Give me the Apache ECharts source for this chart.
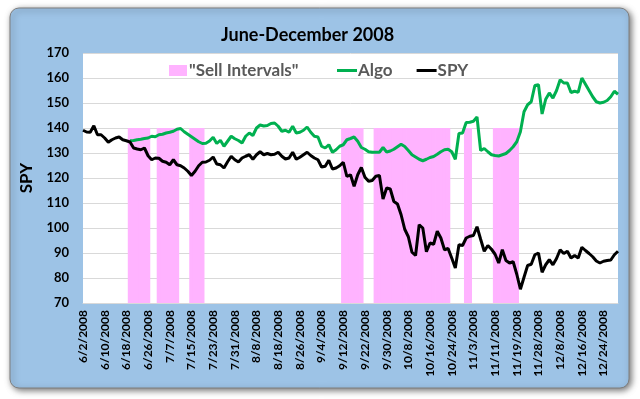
<!DOCTYPE html>
<html>
<head>
<meta charset="utf-8">
<script src="https://cdn.jsdelivr.net/npm/echarts@6/dist/echarts.min.js"></script>
<style>html,body{margin:0;padding:0;background:#fff;}#chart{width:640px;height:399px;}</style>
</head>
<body>
<div id="chart"></div>
<script>
var dates = [
"6/2/2008","6/3/2008","6/4/2008","6/5/2008","6/6/2008","6/9/2008","6/10/2008","6/11/2008","6/12/2008","6/13/2008","6/16/2008","6/17/2008","6/18/2008","6/19/2008","6/20/2008","6/23/2008","6/24/2008","6/25/2008","6/26/2008","6/27/2008","6/30/2008",
"7/1/2008","7/2/2008","7/3/2008","7/7/2008","7/8/2008","7/9/2008","7/10/2008","7/11/2008","7/14/2008","7/15/2008","7/16/2008","7/17/2008","7/18/2008","7/21/2008","7/22/2008","7/23/2008","7/24/2008","7/25/2008","7/28/2008","7/29/2008","7/30/2008","7/31/2008",
"8/1/2008","8/4/2008","8/5/2008","8/6/2008","8/7/2008","8/8/2008","8/11/2008","8/12/2008","8/13/2008","8/14/2008","8/15/2008","8/18/2008","8/19/2008","8/20/2008","8/21/2008","8/22/2008","8/25/2008","8/26/2008","8/27/2008","8/28/2008","8/29/2008",
"9/2/2008","9/3/2008","9/4/2008","9/5/2008","9/8/2008","9/9/2008","9/10/2008","9/11/2008","9/12/2008","9/15/2008","9/16/2008","9/17/2008","9/18/2008","9/19/2008","9/22/2008","9/23/2008","9/24/2008","9/25/2008","9/26/2008","9/29/2008","9/30/2008",
"10/1/2008","10/2/2008","10/3/2008","10/6/2008","10/7/2008","10/8/2008","10/9/2008","10/10/2008","10/13/2008","10/14/2008","10/15/2008","10/16/2008","10/17/2008","10/20/2008","10/21/2008","10/22/2008","10/23/2008","10/24/2008","10/27/2008","10/28/2008","10/29/2008","10/30/2008","10/31/2008",
"11/3/2008","11/4/2008","11/5/2008","11/6/2008","11/7/2008","11/10/2008","11/11/2008","11/12/2008","11/13/2008","11/14/2008","11/17/2008","11/18/2008","11/19/2008","11/20/2008","11/21/2008","11/24/2008","11/25/2008","11/26/2008","11/28/2008",
"12/1/2008","12/2/2008","12/3/2008","12/4/2008","12/5/2008","12/8/2008","12/9/2008","12/10/2008","12/11/2008","12/12/2008","12/15/2008","12/16/2008","12/17/2008","12/18/2008","12/19/2008","12/22/2008","12/23/2008","12/24/2008","12/26/2008","12/29/2008","12/30/2008","12/31/2008"
];

var spy = [
139.1,138.4,138.3,140.9,137.3,137.3,136.0,134.3,135.3,136.0,136.4,135.3,134.9,134.4,132.0,131.6,131.3,132.0,128.9,127.3,128.0,
127.9,126.7,126.3,125.3,127.3,125.3,124.9,124.0,122.7,121.0,122.7,124.9,126.3,126.4,127.1,128.4,125.6,125.3,124.0,126.5,128.7,127.3,
126.4,128.0,128.7,129.3,127.5,129.3,130.5,129.3,129.8,129.3,129.5,130.3,128.7,127.6,128.0,130.3,127.5,128.3,129.3,130.3,129.0,
128.0,127.3,124.4,124.7,127.1,123.6,124.0,124.9,126.3,120.6,121.3,116.7,121.3,124.2,120.3,118.7,119.0,120.7,121.0,111.6,116.0,
115.6,110.6,109.6,105.3,99.5,96.5,90.3,89.0,101.3,100.0,90.5,94.0,93.5,98.7,96.0,91.3,91.8,88.0,84.0,93.3,93.0,96.0,96.7,
97.0,100.5,95.5,90.7,93.0,91.5,89.5,86.0,91.3,87.0,86.0,86.5,81.5,75.5,80.3,85.0,85.5,89.3,90.0,
82.3,85.3,87.3,85.3,87.8,91.3,89.8,90.7,88.0,89.0,88.0,92.3,91.0,89.8,88.5,86.8,86.0,86.7,87.0,87.2,89.3,90.7
];

var algoStartDate = "6/19/2008";
var algo = [
134.9,135.0,135.3,135.5,135.8,136.0,136.7,136.5,137.3,137.5,138.0,138.3,138.7,139.5,139.8,138.5,137.5,136.5,135.5,134.5,133.8,133.9,134.8,136.3,133.8,
135.1,132.7,134.7,136.7,135.7,135.0,134.0,136.7,138.0,137.0,140.0,141.2,140.8,141.0,141.8,142.0,140.7,138.7,139.1,138.3,140.7,138.0,138.3,139.1,140.4,138.3,
136.7,136.4,132.7,132.0,133.3,130.3,131.3,132.7,133.3,135.3,135.8,136.4,134.7,132.2,131.5,130.5,130.3,130.3,130.3,132.2,130.4,
130.8,131.5,132.5,133.5,132.6,131.0,129.3,128.4,127.5,126.9,127.5,128.2,128.6,129.5,130.5,131.3,131.5,130.5,127.5,137.8,138.0,142.2,142.3,
142.7,144.4,131.0,131.8,130.5,129.3,129.0,128.8,129.3,129.8,131.0,132.5,134.5,138.5,146.5,149.3,150.5,157.0,157.3,
145.6,151.5,154.0,152.0,155.0,159.3,158.0,158.0,154.2,154.7,154.3,160.0,157.5,155.0,152.5,150.5,150.0,150.3,151.0,152.5,154.7,153.5
];

var sellStarts = ["6/19/2008","7/1/2008","7/15/2008","9/12/2008","9/25/2008","10/30/2008","11/11/2008"];
var sellEnds   = ["6/26/2008","7/9/2008","7/18/2008","9/19/2008","10/23/2008","10/31/2008","11/19/2008"];
var sellLevel = 140;

var yTicks = [70, 170, 10];

// build series data
var algoData = [];
var aStart = dates.indexOf(algoStartDate);
for (var i = 0; i < dates.length; i++) {
  algoData.push(i >= aStart ? algo[i - aStart] : null);
}
var sellData = dates.map(function(){ return null; });
for (var k = 0; k < sellStarts.length; k++) {
  var s = dates.indexOf(sellStarts[k]), e = dates.indexOf(sellEnds[k]);
  for (var j = s; j <= e; j++) sellData[j] = sellLevel;
}

var FONT = 'Lato, "Open Sans", sans-serif';
var PINK = '#ffb3ff';
var chart = echarts.init(document.getElementById('chart'), null, {renderer: 'canvas'});
chart.setOption({
  backgroundColor: '#ffffff',
  animation: false,
  graphic: [{
    type: 'rect',
    z: -10,
    shape: {x: 10, y: 8, width: 619, height: 380, r: 9},
    style: {fill: '#9dc3e6', stroke: '#7f7f7f', lineWidth: 1, shadowBlur: 6, shadowColor: 'rgba(0,0,0,0.55)', shadowOffsetX: 2, shadowOffsetY: 2}
  }],
  title: {
    text: 'June-December 2008',
    left: 216,
    top: 21,
    textStyle: {fontFamily: FONT, fontSize: 18, fontWeight: 'bold', color: '#000'}
  },
  legend: [{
    top: 62,
    left: 169,
    padding: 0,
    itemWidth: 18,
    itemHeight: 11,
    icon: 'rect',
    textStyle: {fontFamily: FONT, fontSize: 17, fontWeight: 'bold', color: '#595959', padding: [0,0,0,-3]},
    data: ['"Sell Intervals"']
  }, {
    top: 62,
    left: 337,
    padding: 0,
    itemGap: 24,
    itemWidth: 20,
    itemHeight: 3,
    icon: 'rect',
    textStyle: {fontFamily: FONT, fontSize: 17, fontWeight: 'bold', color: '#595959', padding: [0,0,0,-4]},
    data: ['Algo', 'SPY']
  }],
  grid: {left: 83, right: 22, top: 53, bottom: 96, show: true, backgroundColor: '#ffffff', borderWidth: 0, containLabel: false},
  xAxis: {
    type: 'category',
    data: dates,
    boundaryGap: false,
    axisLine: {show: true, lineStyle: {color: '#d9d9d9'}},
    axisTick: {show: false},
    axisLabel: {interval: 5, rotate: 90, margin: 7, fontFamily: FONT, fontSize: 12, fontWeight: 'bold', color: '#000'},
    splitLine: {show: false}
  },
  yAxis: {
    type: 'value',
    min: yTicks[0], max: yTicks[1], interval: yTicks[2],
    name: 'SPY',
    nameLocation: 'middle',
    nameRotate: 90,
    nameGap: 45,
    nameTextStyle: {fontFamily: FONT, fontSize: 17, fontWeight: 'bold', color: '#000'},
    axisLine: {show: false},
    axisTick: {show: false},
    axisLabel: {margin: 14, fontFamily: FONT, fontSize: 13, fontWeight: 'bold', color: '#000'},
    splitLine: {lineStyle: {color: '#d9d9d9', width: 1}}
  },
  series: [
    {
      name: '"Sell Intervals"',
      type: 'bar',
      data: sellData,
      barWidth: 4.4,
      itemStyle: {color: PINK},
      z: 1
    },
    {
      name: 'Algo',
      type: 'line',
      data: algoData,
      symbol: 'none',
      connectNulls: false,
      lineStyle: {color: '#00b050', width: 3},
      itemStyle: {color: '#00b050'},
      z: 3
    },
    {
      name: 'SPY',
      type: 'line',
      data: spy,
      symbol: 'none',
      lineStyle: {color: '#000000', width: 3},
      itemStyle: {color: '#000000'},
      z: 4
    }
  ]
});
</script>
</body>
</html>
